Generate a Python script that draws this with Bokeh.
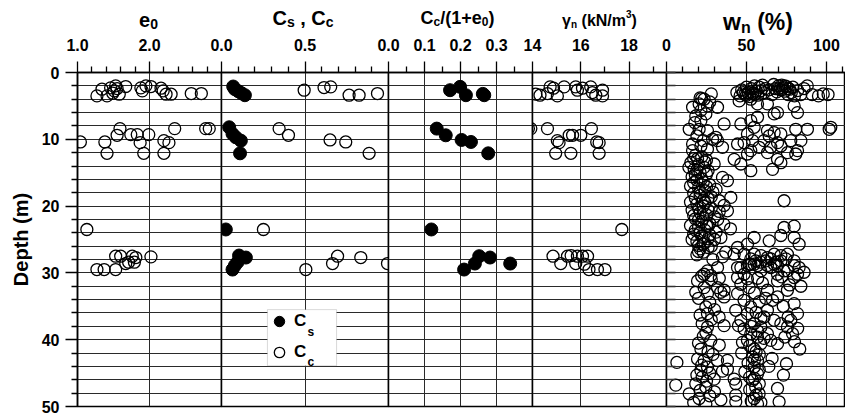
from bokeh.plotting import figure
from bokeh.layouts import row, column
from bokeh.models import (Range1d, FixedTicker, PrintfTickFormatter, Label, Legend, LegendItem,
                          BoxAnnotation, LinearAxis)
from bokeh.core.properties import value
from bokeh.embed import file_html
from bokeh.resources import INLINE

# ---------------- data ----------------
depth_major = [0, 10, 20, 30, 40, 50]
depth_minor = [2, 4, 6, 8, 12, 14, 16, 18, 22, 24, 26, 28, 32, 34, 36, 38, 42, 44, 46, 48]
depth_grid = list(range(0, 51, 2))

e0_major = [1.0, 2.0]
e0_minor = [1.2, 1.4, 1.6, 1.8, 2.2, 2.4, 2.6, 2.8]
c_major = [0.0, 0.5]
c_minor = [0.1, 0.2, 0.3, 0.4, 0.6, 0.7, 0.8, 0.9]
r_major = [0.0, 0.1, 0.2, 0.3]
r_minor = [0.05, 0.15, 0.25, 0.35]
g_major = [14, 16, 18]
g_minor = [15, 17, 19]
w_major = [0, 50, 100]
w_minor = [10, 20, 30, 40, 60, 70, 80, 90, 110]

e0_vals = [1.27, 1.34, 1.41, 1.46, 1.51, 1.53, 1.55, 1.58, 1.67, 1.88, 1.90, 1.95, 2.02, 2.16, 2.19,
           2.23, 2.30, 2.58, 2.72, 1.49,
           1.04, 1.38, 1.41, 1.59, 1.55, 1.74, 1.83, 1.87, 1.92, 1.99, 2.20, 2.27, 2.20, 2.35, 2.78, 2.83,
           1.13,
           1.53, 1.60, 1.67, 1.76, 1.81, 1.79, 2.02, 1.27, 1.37, 1.53, 1.71]
e0_depth = [3.5, 2.5, 3.5, 2.3, 2.75, 2.0, 2.4, 3.25, 2.1, 2.3, 2.75, 2.0, 2.1, 2.35, 2.75,
            3.25, 3.25, 3.15, 3.15, 3.1,
            10.4, 10.4, 12.1, 8.4, 9.4, 9.3, 9.3, 10.5, 12.1, 9.3, 10.2, 10.5, 12.1, 8.4, 8.4, 8.4,
            23.5,
            27.5, 27.5, 28.6, 27.5, 27.7, 28.4, 27.6, 29.5, 29.5, 29.5, 28.4]

cs_vals = [0.07, 0.08, 0.10, 0.12, 0.14, 0.046, 0.066, 0.086, 0.116, 0.111, 0.026,
           0.105, 0.146, 0.096, 0.066, 0.08]
cs_depth = [2.1, 2.5, 2.8, 3.1, 3.4, 8.2, 9.2, 9.7, 10.2, 12.1, 23.5,
            27.4, 27.7, 28.4, 29.5, 28.9]

cc_vals = [0.495, 0.614, 0.654, 0.764, 0.824, 0.934, 0.345, 0.401, 0.65, 0.744, 0.884, 0.251,
           0.695, 0.665, 0.834, 0.994, 0.505]
cc_depth = [2.65, 2.25, 2.15, 3.4, 3.4, 3.15, 8.4, 9.4, 10.1, 10.4, 12.1, 23.5,
            27.5, 28.6, 27.7, 28.6, 29.5]

ratio_vals = [0.171, 0.199, 0.215, 0.262, 0.266, 0.134, 0.159, 0.203, 0.229, 0.277, 0.119,
              0.252, 0.282, 0.240, 0.210, 0.338]
ratio_depth = [2.65, 2.15, 3.4, 3.2, 3.4, 8.4, 9.4, 10.1, 10.4, 12.1, 23.5,
               27.5, 27.7, 28.6, 29.5, 28.6]

gamma_vals = [14.14, 14.31, 14.62, 14.73, 14.87, 15.03, 15.31, 15.79, 15.86, 16.07, 16.41, 16.48,
              16.62, 16.90, 16.90,
              13.83, 13.93, 14.62, 15.03, 15.10, 15.52, 15.66, 16.00, 16.44, 16.66, 16.76, 14.96,
              15.59, 16.76,
              17.70,
              14.85, 15.17, 15.45, 15.60, 15.79, 15.86, 16.07, 16.28, 16.34, 16.69, 17.00, 16.15]
gamma_depth = [3.25, 3.4, 3.15, 2.15, 2.35, 3.5, 2.15, 2.15, 2.65, 2.35, 2.15, 3.0,
               3.4, 2.65, 3.5,
               8.4, 8.4, 8.4, 10.2, 10.5, 9.4, 9.4, 9.4, 8.4, 10.4, 10.5, 12.1,
               12.1, 12.1,
               23.5,
               27.5, 28.6, 27.5, 27.4, 28.6, 27.5, 27.5, 27.5, 29.5, 29.5, 29.5, 28.7]

# natural water content, grouped by depth band
wn_a_vals = [21, 28, 44, 46, 47, 49, 50, 51, 52, 53, 54, 55, 56, 57, 58, 59, 60, 61, 62, 64,
             66, 67, 68, 69, 70, 71, 72, 73, 74, 75, 76, 77, 78, 79, 80, 82, 84, 86, 88, 91,
             95, 98, 101, 48, 50, 53, 55, 70, 72, 74, 76]
wn_a_depth = [3.8, 3.2, 3.0, 3.5, 2.6, 3.3, 2.2, 3.0, 3.6, 2.4, 3.1, 2.0, 2.8, 3.4, 2.2, 2.7, 1.9, 3.0, 2.4, 2.6,
              3.3, 1.8, 2.4, 2.9, 2.0, 2.6, 1.9, 2.3, 2.8, 2.1, 3.3, 2.5, 3.0, 2.2, 3.5, 2.7, 3.3, 2.4, 2.0, 3.3,
              3.5, 3.2, 3.3, 3.0, 3.4, 2.9, 3.3, 2.4, 2.6, 2.0, 2.4]
wn_b_vals = [16.3, 20.4, 23.5, 21.5, 25.6, 31.9, 18.3, 24.6, 21.5, 17.7, 36.0, 14.2, 20.4, 25.6, 30.8,
             31.9, 16.3, 21.5, 25.6, 35.0, 28.8, 19.0, 23.0, 27.0, 22.0]
wn_b_depth = [5.2, 4.7, 4.0, 5.7, 5.0, 5.2, 6.5, 6.2, 7.2, 7.5, 7.7, 8.5, 8.5, 8.7, 9.7,
              10.2, 10.7, 11.0, 11.5, 11.2, 10.0, 9.5, 10.2, 4.4, 3.9]
wn_c_vals = [45.4, 52.7, 56.9, 63.1, 67.3, 69.4, 79.8, 81.9, 46.5, 52.7, 56.9, 54.8, 50.6, 53.8, 63.1,
             67.3, 71.5, 80.8, 88.1, 101.7, 102.7, 69.4, 77.7, 84.0, 65.2, 71.5, 75.6, 80.8, 63.1, 69.4,
             52.7, 50.6, 44.4, 42.3, 46.5, 52.7, 66.3, 71.5, 81.9, 61.0, 64.2, 48.5, 57.9]
wn_c_depth = [4.25, 4.0, 4.7, 4.7, 6.2, 6.0, 5.0, 6.0, 7.7, 7.2, 6.7, 8.2, 9.2, 10.2, 8.7,
              9.0, 9.2, 8.5, 8.5, 8.5, 8.2, 10.5, 10.2, 10.2, 11.2, 11.0, 12.0, 12.2, 12.0, 13.0,
              11.7, 12.2, 10.7, 13.0, 13.7, 14.7, 14.5, 13.5, 11.7, 10.2, 9.5, 10.5, 11.2]
wn_d_vals = [16.3, 19.4, 15.2, 17.3, 23.5, 29.8, 35.0, 38.1, 40.2, 38.1, 35.8, 40.0, 34.0, 37.0,
             18, 22, 25, 20, 14, 21, 25, 16, 19, 23, 27, 15, 20, 24, 31, 17, 21, 26, 33, 15,
             19, 23, 28, 16, 21, 25, 30, 18, 22, 27, 15, 20, 24, 31, 17, 22, 26, 19, 23, 28,
             21, 33, 36, 29, 18, 24, 26, 20, 73.5,
             17, 24, 19, 26, 22, 17, 25, 21, 18, 23, 20, 26, 17, 23, 20, 25, 18, 21, 27, 16,
             24, 20, 26, 23, 19, 30, 32, 28, 29, 35, 33]
wn_d_depth = [11.7, 12.9, 13.5, 14.5, 14.2, 13.7, 15.7, 16.2, 18.7, 20.7, 22.7, 23.4, 24.7, 26.9,
              12.4, 12.6, 13.1, 13.8, 14.2, 15.0, 15.2, 15.6, 16.1, 16.4, 16.8, 17.0, 17.3, 17.7, 17.5, 18.1,
              18.4, 18.9, 19.2, 19.4, 19.7, 20.0, 20.3, 20.6, 21.0, 21.3, 21.6, 21.9, 22.3, 22.6, 22.9, 23.2,
              23.6, 23.9, 24.2, 24.5, 24.9, 25.3, 25.7, 26.0, 26.4, 20.8, 19.9, 17.9, 15.3, 19.5, 23.0, 26.8,
              19.2,
              12.9, 13.4, 14.6, 14.7, 15.9, 16.5, 17.1, 17.9, 18.8, 19.1, 20.3, 20.6, 21.4, 21.8, 22.1, 22.9,
              23.6, 24.0, 24.3, 25.0, 25.5, 25.9, 26.2, 26.9, 27.3, 25.0, 22.0, 18.6, 28.0, 27.6, 30.8]
wn_e_vals = [73.5, 79.8, 71.5, 79.8, 82.9, 64.2, 54.8, 50.6, 44.4, 42.3, 48.5, 54.8, 59.0, 63.1, 67.3,
             71.5, 75.6, 79.8, 82.9, 86.0, 46.5, 50.6, 54.8, 59.0, 65.2, 69.4, 75.6, 79.8, 44.4, 50.6,
             31.9, 27.7, 23.5, 52.7, 55.8, 59.0, 62.1, 65.2, 68.3, 71.5, 74.6, 51.7, 56.9, 63.1, 69.4]
wn_e_depth = [23.2, 23.0, 24.4, 24.7, 25.7, 25.2, 24.7, 25.7, 26.2, 27.2, 27.2, 27.2, 27.4, 27.7, 27.2,
              27.4, 27.2, 28.2, 29.2, 29.9, 29.2, 28.9, 28.7, 29.7, 29.2, 30.2, 29.7, 30.7, 30.7, 30.9,
              29.2, 30.4, 30.2, 27.9, 28.2, 28.4, 28.2, 27.9, 28.4, 28.2, 27.9, 28.7, 28.9, 28.9, 28.9]
wn_f_vals = [25.6, 19.4, 23.5, 18.3, 25.6, 31.9, 36.0, 33.9, 24.6, 22.3, 25.6, 24.6, 27.7, 21.5, 19.4,
             23.5, 31.9, 38.1, 38.1, 25.6, 21.5, 22.3, 29.8, 42.3, 43.3, 18.3, 24.6, 14.2, 20.4, 24.6,
             43.3, 43.3, 36.0, 32.9, 36.0, 25.6, 6.5, 5.8,
             22, 28, 20, 27, 30, 21, 28, 23, 20, 26, 29, 22, 27, 19, 25, 21, 27, 17, 33, 35, 30, 34]
wn_f_depth = [29.7, 31.2, 32.2, 32.9, 33.1, 32.2, 33.6, 32.9, 35.1, 37.6, 38.1, 38.9, 40.1, 41.4, 42.9,
              43.1, 43.1, 43.1, 44.4, 44.1, 44.6, 45.6, 45.9, 45.9, 46.6, 46.6, 47.1, 48.1, 48.8, 49.6,
              48.3, 49.3, 32.6, 36.6, 37.9, 36.1, 43.4, 46.8,
              30.5, 31.0, 33.8, 34.4, 35.5, 36.3, 37.0, 39.5, 40.5, 41.8, 42.2, 43.8, 45.0, 45.3, 46.2,
              47.6, 48.4, 49.4, 40.8, 44.7, 47.8, 49.0]
wn_g_vals = [44.4, 48.5, 52.7, 46.5, 51.7, 44.4, 48.5, 52.7, 43.3, 50.6, 46.5, 54.8, 48.5, 52.7, 56.9,
             50.6, 47.5, 59.0, 54.8, 53.8, 56.9, 54.8, 56.9, 53.8, 55.8, 57.9, 54.8, 56.9, 63.1, 61.0,
             59.0, 63.1, 65.2,
             57, 60, 55, 58, 62, 56, 59, 53, 57, 61, 52, 56, 58, 51, 55, 58, 52, 55, 58, 52,
             56, 53, 59, 45, 47, 49]
wn_g_depth = [29.2, 30.2, 28.7, 31.7, 32.2, 33.1, 34.1, 35.1, 35.6, 36.1, 37.1, 37.6, 38.4, 39.1, 39.6,
              40.1, 40.4, 40.6, 41.4, 42.6, 43.1, 44.1, 45.1, 46.1, 47.1, 48.1, 48.8, 49.6, 35.6, 36.6,
              38.1, 39.1, 40.1,
              30.8, 31.5, 33.0, 34.3, 33.8, 35.9, 36.8, 38.0, 38.7, 39.8, 40.9, 41.8, 42.2, 43.5, 43.0,
              44.5, 45.6, 45.8, 46.6, 47.5, 48.3, 49.2, 49.4, 37.9, 42.0, 44.8]
wn_h_vals = [67.3, 73.5, 79.8, 81.9, 69.4, 75.6, 79.8, 81.9, 77.7, 71.5, 67.3, 75.6, 78.8, 69.4, 83.3,
             73.1, 69.4, 70.4, 63.1, 66.3, 69.4,
             72, 77, 84, 73, 76, 82, 74, 80, 66, 64, 75]
wn_h_depth = [28.7, 29.7, 28.9, 30.2, 31.2, 32.6, 34.6, 36.1, 37.1, 37.6, 37.1, 38.1, 39.1, 40.6, 41.4,
              45.3, 47.3, 49.3, 32.6, 34.1, 33.6,
              30.6, 31.8, 32.0, 35.0, 36.6, 38.3, 39.6, 40.3, 42.8, 44.0, 43.6]

wn_vals = wn_a_vals + wn_b_vals + wn_c_vals + wn_d_vals + wn_e_vals + wn_f_vals + wn_g_vals + wn_h_vals
wn_depth = (wn_a_depth + wn_b_depth + wn_c_depth + wn_d_depth + wn_e_depth + wn_f_depth
            + wn_g_depth + wn_h_depth)

# ---------------- styling / layout ----------------
FONT = "Liberation Sans"
FRAME_H = 334
TITLE_H = 44      # height of the strip that carries the panel titles
MAIN_TOP = 46     # border above each depth frame (tick labels)
OVERLAP = 18      # title strip overlaps the upper border of the panels
BOTTOM = 8
PAD = 26
LEFT0 = 77
WIDTHS = [144, 167, 144, 134, 179]
GRID_COLOR = "#2a2a2a"
TICK_FONT = "16px"

# Liberation Sans Bold advance widths (1/1000 em) for title layout
ADV = {" ": 278, "(": 333, ")": 333, "%": 889, "+": 584, ",": 278, "/": 278, "0": 556, "1": 556,
       "3": 556, "C": 722, "N": 722, "c": 556, "e": 556, "k": 556, "m": 889, "n": 611, "s": 556,
       "w": 778, "γ": 556}


def tw(t, s):
    return sum(ADV.get(ch, 600) for ch in t) * s / 1000.0


shared_y = Range1d(50, 0)


def make_panel(xr, fw, majors, minors, fmt, first=False, last=False):
    p = figure(x_range=xr, y_range=shared_y, frame_width=fw, frame_height=FRAME_H,
               x_axis_location="above", y_axis_location="left" if first else None,
               output_backend="svg", toolbar_location=None,
               min_border_top=MAIN_TOP, min_border_bottom=BOTTOM,
               min_border_left=LEFT0 if first else PAD, min_border_right=0 if last else PAD,
               background_fill_color="white", border_fill_color=None,
               outline_line_color="black", outline_line_width=1.5)
    if not first:
        p.margin = (0, 0, 0, -2 * PAD)
    ax = p.xaxis[0]
    ax.ticker = FixedTicker(ticks=majors, minor_ticks=minors)
    ax.formatter = PrintfTickFormatter(format=fmt)
    ax.major_tick_out = 11
    ax.major_tick_in = 0
    ax.minor_tick_out = 6
    ax.minor_tick_in = 0
    ax.major_label_standoff = 11
    ax.major_label_text_font = FONT
    ax.major_label_text_font_size = TICK_FONT
    ax.major_label_text_font_style = "bold"
    ax.major_label_text_color = "black"
    ax.axis_line_color = "black"
    ax.axis_line_width = 1.5
    ax.major_tick_line_color = "black"
    ax.minor_tick_line_color = "black"
    ax.major_tick_line_width = 1.3
    ax.minor_tick_line_width = 1.3
    p.xgrid.ticker = FixedTicker(ticks=majors)
    p.ygrid.ticker = FixedTicker(ticks=depth_grid)
    p.grid.grid_line_color = GRID_COLOR
    p.grid.grid_line_width = 1
    if first:
        ya = p.yaxis[0]
        ya.ticker = FixedTicker(ticks=depth_major, minor_ticks=depth_minor)
        ya.major_tick_out = 12
        ya.major_tick_in = 0
        ya.minor_tick_out = 6
        ya.minor_tick_in = 0
        ya.major_label_standoff = 6
        ya.major_label_text_font = FONT
        ya.major_label_text_font_size = TICK_FONT
        ya.major_label_text_font_style = "bold"
        ya.major_label_text_color = "black"
        ya.axis_label = "Depth (m)"
        ya.axis_label_text_font = FONT
        ya.axis_label_text_font_size = "20px"
        ya.axis_label_text_font_style = "bold"
        ya.axis_label_text_color = "black"
        ya.axis_label_standoff = 7
        ya.axis_line_color = "black"
        ya.axis_line_width = 1.5
        ya.major_tick_line_width = 1.3
        ya.minor_tick_line_width = 1.3
    return p


# ---- title strip (one figure spanning all panels, x in pixels) ----
TOTAL_W = LEFT0 + sum(WIDTHS)
ttl = figure(x_range=Range1d(0, TOTAL_W), y_range=Range1d(0, TITLE_H), frame_width=TOTAL_W,
             frame_height=TITLE_H, x_axis_location=None, y_axis_location=None,
             output_backend="svg", toolbar_location=None, min_border=0,
             background_fill_color=None, border_fill_color=None, outline_line_color=None)
ttl.grid.visible = False


def panel_center(i):
    return LEFT0 + sum(WIDTHS[:i]) + WIDTHS[i] / 2.0


def add_title(i, nudge, pieces, base):
    xc = panel_center(i) + nudge
    total = sum(tw(s_, sz) for s_, sz, dy in pieces)
    off = -total / 2.0
    for s_, sz, dy in pieces:
        if s_.strip():
            ttl.add_layout(Label(x=xc + off, y=base + dy, text=s_,
                                 text_font=FONT, text_font_size=f"{sz}px", text_font_style="bold",
                                 text_color="black", text_align="left", text_baseline="alphabetic"))
        off += tw(s_, sz)


# baselines in strip pixels above the strip bottom
add_title(0, -1, [("e", 20, 0), ("0", 14, -4)], 25)
add_title(1, -2, [("C", 20, 0), ("s", 14, -4), (" ", 20, 0), (",", 20, 0), (" ", 20, 0),
                  ("C", 20, 0), ("c", 14, -4)], 27)
add_title(2, -3, [("C", 18, 0), ("c", 12, -4), ("/(1+e", 18, 0), ("0", 12, -4), (")", 18, 0)], 27)
add_title(3, 0, [("γ", 16, 0), ("n", 10, -4), (" ", 16, 0), ("(kN/m", 16, 0), ("3", 10, 7),
                 (")", 16, 0)], 24)
add_title(4, 2, [("w", 23, 0), ("n", 16, -6), (" ", 23, 0), ("(%)", 23, 0)], 23)

OPEN = dict(marker="circle", fill_color=None, line_color="black", line_width=1.3)
FILLED = dict(marker="circle", fill_color="black", line_color="black", line_width=1)

p1 = make_panel(Range1d(1.0, 3.0), WIDTHS[0], e0_major, e0_minor, "%.1f", first=True)
p1.scatter(e0_vals, e0_depth, size=12, **OPEN)

p2 = make_panel(Range1d(0.0, 1.0), WIDTHS[1], c_major, c_minor, "%.1f")
# legend frame (white box hiding the grid), then the legend itself on top
p2.add_layout(BoxAnnotation(left=0.275, right=0.689, top=35.5, bottom=43.9, fill_color="white",
                            fill_alpha=1.0, line_color="#808080", line_width=1, level="underlay"))
r_cs = p2.scatter(cs_vals, cs_depth, size=13, **FILLED)
r_cc = p2.scatter(cc_vals, cc_depth, size=12, **OPEN)
legend = Legend(items=[LegendItem(label=value("C"), renderers=[r_cs]),
                       LegendItem(label=value("C"), renderers=[r_cc])],
                location=(45, 40), orientation="vertical", padding=0, spacing=3, margin=0,
                glyph_width=26, glyph_height=28, label_standoff=2, label_width=41,
                label_text_font=FONT, label_text_font_size="17px", label_text_font_style="bold",
                label_text_color="black", border_line_color=None,
                background_fill_alpha=0.0)
p2.add_layout(legend)
for sub, dep in (("s", 38.9), ("c", 43.3)):
    p2.add_layout(Label(x=0.515, y=dep, text=sub, text_font=FONT, text_font_size="12px",
                        text_font_style="bold", text_color="black", text_baseline="alphabetic",
                        level="overlay"))

p3 = make_panel(Range1d(0.0, 0.4), WIDTHS[2], r_major, r_minor, "%.1f")
p3.scatter(ratio_vals, ratio_depth, size=13, **FILLED)

p4 = make_panel(Range1d(14.0, 19.55), WIDTHS[3], g_major, g_minor, "%d")
p4.scatter(gamma_vals, gamma_depth, size=12, **OPEN)

p5 = make_panel(Range1d(0.0, 111.9), WIDTHS[4], w_major, w_minor, "%d", last=True)
# short inward tick stubs on the left edge of the water-content panel (minor ticks only: no labels)
stub_axis = LinearAxis(ticker=FixedTicker(ticks=[], minor_ticks=depth_grid),
                       major_tick_in=0, major_tick_out=0, minor_tick_in=9, minor_tick_out=0,
                       axis_line_color=None, minor_tick_line_color="#333333",
                       minor_tick_line_width=1.6)
p5.add_layout(stub_axis, "left")
p5.scatter(wn_vals, wn_depth, size=12, **OPEN)

panels = row(p1, p2, p3, p4, p5, spacing=0, margin=(-OVERLAP, 0, 0, 0))
layout = column(ttl, panels, spacing=0)
open("out.html", "w").write(file_html(layout, INLINE))
